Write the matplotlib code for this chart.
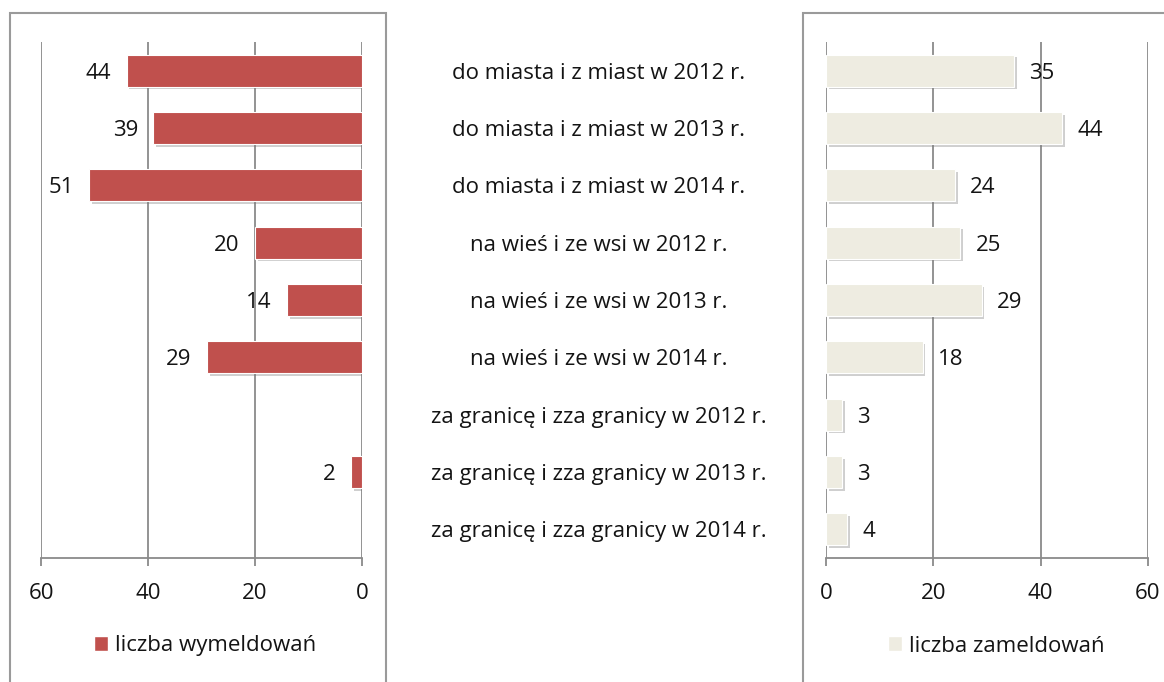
import numpy as np
import matplotlib
matplotlib.use("Agg")
import matplotlib.pyplot as plt
import matplotlib.transforms as mtransforms
import matplotlib.patheffects as pe
from matplotlib.patches import Patch, Rectangle

plt.rcParams['font.family'] = ['Open Sans', 'DejaVu Sans']

categories = [
    "do miasta i z miast w 2012 r.",
    "do miasta i z miast w 2013 r.",
    "do miasta i z miast w 2014 r.",
    "na wieś i ze wsi w 2012 r.",
    "na wieś i ze wsi w 2013 r.",
    "na wieś i ze wsi w 2014 r.",
    "za granicę i zza granicy w 2012 r.",
    "za granicę i zza granicy w 2013 r.",
    "za granicę i zza granicy w 2014 r.",
]
wymeldowania = [44, 39, 51, 20, 14, 29, np.nan, 2, np.nan]
zameldowania = [35, 44, 24, 25, 29, 18, 3, 3, 4]
x_ticks = [0, 20, 40, 60]

red = "#C0504D"
beige = "#EEECE1"
grid_col = "#8A8A8A"
txt_col = "#141414"
fs = 16

W, H = 1164, 682
fig = plt.figure(figsize=(W / 100, H / 100), dpi=100)

# panel frames
for x0, x1 in [(10, 386), (803, 1170)]:
    fig.patches.append(Rectangle((x0 / W, -0.05), (x1 - x0) / W, 1.05 - 13 / H,
                                 transform=fig.transFigure, fill=False,
                                 edgecolor="#9A9A9A", linewidth=1.5))

ax_l = fig.add_axes([41 / W, 1 - 558 / H, 321 / W, 516 / H])
ax_r = fig.add_axes([826 / W, 1 - 558 / H, 322 / W, 516 / H])

y = np.arange(len(categories))
shadow = [pe.withSimplePatchShadow(offset=(2, -2), shadow_rgbFace="#777777", alpha=0.35)]

for ax, vals, col in [(ax_l, wymeldowania, red), (ax_r, zameldowania, beige)]:
    bars = ax.barh(y, vals, height=0.56, color=col, edgecolor="white", linewidth=0.8,
                   zorder=3)
    for b in bars:
        b.set_path_effects(shadow)
    ax.set_xlim(0, 60)
    ax.set_ylim(8.5, -0.5)
    ax.set_xticks(x_ticks)
    ax.set_yticks([])
    ax.xaxis.grid(True, color=grid_col, linewidth=1.3, zorder=0)
    ax.set_axisbelow(True)
    for s in ["top", "left", "right"]:
        ax.spines[s].set_visible(False)
    ax.spines["bottom"].set_color(grid_col)
    ax.spines["bottom"].set_linewidth(1.3)
    ax.tick_params(axis="x", direction="out", length=6, width=1.3, color=grid_col,
                   labelsize=fs, labelcolor=txt_col, pad=12)
    ax.set_facecolor("none")
    for yi, v in zip(y, vals):
        if np.isnan(v):
            continue
        ax.annotate(f"{v:g}", (v, yi), xytext=(11, 0), textcoords="offset points",
                    ha="left", va="center_baseline", fontsize=fs, color=txt_col)

ax_l.invert_xaxis()
for t in ax_l.texts:
    t.set_ha("right")
    t.xyann = (-11, 0)

# category labels in the middle
trans = mtransforms.blended_transform_factory(fig.transFigure, ax_l.transData)
for yi, c in zip(y, categories):
    fig.text(599 / W, yi, c, transform=trans, ha="center", va="center_baseline",
             fontsize=fs, color=txt_col)

fig.legend(handles=[Patch(facecolor=red, edgecolor="white")], labels=["liczba wymeldowań"],
           loc="center", bbox_to_anchor=(205 / W, 1 - 646 / H), frameon=False,
           fontsize=fs, handlelength=0.65, handleheight=0.65, handletextpad=0.3,
           labelcolor=txt_col)
fig.legend(handles=[Patch(facecolor=beige, edgecolor="white")], labels=["liczba zameldowań"],
           loc="center", bbox_to_anchor=(996 / W, 1 - 646 / H), frameon=False,
           fontsize=fs, handlelength=0.65, handleheight=0.65, handletextpad=0.3,
           labelcolor=txt_col)

fig.savefig("out.png", dpi=100)
